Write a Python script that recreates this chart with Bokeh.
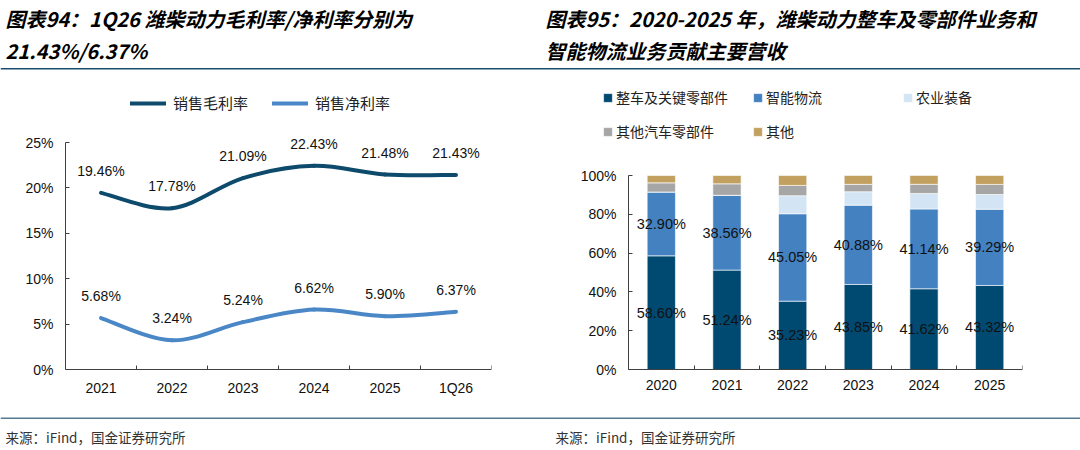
from bokeh.core.properties import value
from bokeh.embed import file_html
from bokeh.layouts import column, row
from bokeh.models import (ColumnDataSource, FixedTicker, Legend, LegendItem,
                          PrintfTickFormatter, Range1d, Span)
from bokeh.plotting import figure
from bokeh.resources import INLINE

# ---- data: left chart (margins, %)
years_left = ["2021", "2022", "2023", "2024", "2025", "1Q26"]
gross_margin = [19.46, 17.78, 21.09, 22.43, 21.48, 21.43]
net_margin = [5.68, 3.24, 5.24, 6.62, 5.90, 6.37]

# ---- data: right chart (revenue mix, %)
years_right = ["2020", "2021", "2022", "2023", "2024", "2025"]
vehicle_parts = [58.60, 51.24, 35.23, 43.85, 41.62, 43.32]
logistics = [32.90, 38.56, 45.05, 40.88, 41.14, 39.29]
agri = [0.0, 0.0, 9.3, 6.9, 8.0, 7.6]
other_auto = [4.7, 5.9, 5.3, 3.8, 4.7, 5.2]
others = [3.8, 4.3, 5.1, 4.6, 4.6, 4.6]
mix_names = ["整车及关键零部件", "智能物流", "农业装备", "其他汽车零部件", "其他"]

titles_left = ["图表94：1Q26 潍柴动力毛利率/净利率分别为", "21.43%/6.37%"]
titles_right = ["图表95：2020-2025 年，潍柴动力整车及零部件业务和", "智能物流业务贡献主要营收"]
source_note = "来源：iFind，国金证券研究所"

CJK = "Noto Sans CJK SC"
NUM = "Liberation Sans"
RULE = "#1b4d6e"


def smooth_segments(xs, ys):
    # bezier pieces through the points (excel style smoothed line)
    px = [xs[0]] + list(xs) + [xs[-1]]
    py = [ys[0]] + list(ys) + [ys[-1]]
    seg = dict(x0=[], y0=[], x1=[], y1=[], cx0=[], cy0=[], cx1=[], cy1=[])
    for i in range(1, len(xs)):
        seg["x0"].append(px[i]); seg["y0"].append(py[i])
        seg["x1"].append(px[i + 1]); seg["y1"].append(py[i + 1])
        seg["cx0"].append(px[i] + (px[i + 1] - px[i - 1]) / 6)
        seg["cy0"].append(py[i] + (py[i + 1] - py[i - 1]) / 6)
        seg["cx1"].append(px[i + 1] - (px[i + 2] - px[i]) / 6)
        seg["cy1"].append(py[i + 1] - (py[i + 2] - py[i]) / 6)
    return seg


def style_axes(p):
    for ax in p.axis:
        ax.axis_line_color = "#404040"
        ax.major_tick_line_color = "#404040"
        ax.minor_tick_line_color = "#404040"
        ax.major_label_text_font = NUM
        ax.major_label_text_font_size = "14px"
        ax.major_label_text_color = "#111111"
    p.yaxis.major_tick_in = 4
    p.yaxis.major_tick_out = 0
    p.yaxis.minor_tick_line_color = None
    p.yaxis.major_label_standoff = 12
    p.yaxis.formatter = PrintfTickFormatter(format="%d%%")
    p.xaxis.major_tick_in = 0
    p.xaxis.major_tick_out = 0
    p.xaxis.minor_tick_in = 4
    p.xaxis.minor_tick_out = 0
    p.xaxis.major_label_standoff = 10
    p.xaxis.fixed_location = 0
    p.grid.visible = False


def strip(h, y0, y1):
    # page strip for titles / source, y runs top-down in page pixels
    s = figure(width=1080, height=h, x_range=Range1d(0, 1080), y_range=Range1d(y1, y0),
               x_axis_type=None, y_axis_type=None, min_border=0, toolbar_location=None,
               output_backend="svg", outline_line_color=None)
    s.grid.visible = False
    return s


# ================= header
head = strip(72, 0, 72)
head_src = ColumnDataSource(dict(x=[5, 5, 545, 545], y=[18, 50, 18, 50],
                                 t=titles_left + titles_right))
head.text(x="x", y="y", text="t", source=head_src, text_font=value(CJK),
          text_font_size="20px", text_font_style="bold italic", text_color="#000000",
          text_baseline="middle")
head.add_layout(Span(location=68.3, dimension="width", line_color=RULE, line_width=1.5))

# ================= left: margins
# both chart frames span the same rows (the row aligns them); x axes sit at y=0
p1 = figure(width=540, height=345, x_range=Range1d(0, 6), y_range=Range1d(-3.6, 31.82),
            min_border_left=65, min_border_right=49, min_border_top=8, min_border_bottom=15,
            toolbar_location=None, output_backend="svg", outline_line_color=None)
style_axes(p1)
centers_l = [i + 0.5 for i in range(len(years_left))]
p1.xaxis.ticker = FixedTicker(ticks=centers_l, minor_ticks=list(range(len(years_left) + 1)))
p1.xaxis.major_label_overrides = {c: y for c, y in zip(centers_l, years_left)}
p1.yaxis.ticker = FixedTicker(ticks=[0, 5, 10, 15, 20, 25])
p1.yaxis.bounds = (0, 25)

bez = dict(x0="x0", y0="y0", x1="x1", y1="y1", cx0="cx0", cy0="cy0", cx1="cx1", cy1="cy1")
r_gross = p1.bezier(source=ColumnDataSource(smooth_segments(centers_l, gross_margin)),
                    line_color="#0d4a6b", line_width=4, line_cap="round", **bez)
r_net = p1.bezier(source=ColumnDataSource(smooth_segments(centers_l, net_margin)),
                  line_color="#4a87c7", line_width=4, line_cap="round", **bez)

for vals in (gross_margin, net_margin):
    src = ColumnDataSource(dict(x=centers_l, y=vals, t=[f"{v:.2f}%" for v in vals]))
    p1.text(x="x", y="y", text="t", source=src, y_offset=-22, text_align="center",
            text_baseline="middle", text_font=value(NUM), text_font_size="14px",
            text_color="#111111")

leg1 = Legend(items=[LegendItem(label="销售毛利率", renderers=[r_gross]),
                     LegendItem(label="销售净利率", renderers=[r_net])],
              orientation="horizontal", location=(65, 289), glyph_width=36, glyph_height=20,
              label_height=20, label_standoff=7, spacing=24, padding=0, margin=0,
              border_line_color=None, background_fill_alpha=0,
              label_text_font=CJK, label_text_font_size="15px", label_text_color="#222222")
p1.add_layout(leg1)

# ================= right: revenue mix
# frame reaches past the axes so the legend and tick labels fit; axes sit at x=0 / y=0
p2 = figure(width=540, height=345, x_range=Range1d(-0.837, 6), y_range=Range1d(-17.01, 148.97),
            min_border_left=33, min_border_right=58, min_border_top=8, min_border_bottom=15,
            toolbar_location=None, output_backend="svg", outline_line_color=None)
style_axes(p2)
centers_r = [i + 0.5 for i in range(len(years_right))]
p2.xaxis.ticker = FixedTicker(ticks=centers_r, minor_ticks=list(range(len(years_right) + 1)))
p2.xaxis.major_label_overrides = {c: y for c, y in zip(centers_r, years_right)}
p2.xaxis.bounds = (0, 6)
p2.yaxis.ticker = FixedTicker(ticks=[0, 20, 40, 60, 80, 100])
p2.yaxis.bounds = (0, 100)
p2.yaxis.fixed_location = 0

keys = ["vp", "lg", "ag", "oa", "ot"]
mix_src = ColumnDataSource(dict(x=centers_r, vp=vehicle_parts, lg=logistics, ag=agri,
                                oa=other_auto, ot=others))
mix_colors = ["#004a72", "#4381c1", "#d3e5f5", "#a6a6a6", "#c2a160"]
bars = p2.vbar_stack(keys, x="x", width=0.43, color=mix_colors, source=mix_src,
                     line_color="white", line_width=0.6)

lab_x, lab_y, lab_t = [], [], []
for i, c in enumerate(centers_r):
    lab_x += [c, c]
    lab_y += [vehicle_parts[i] / 2, vehicle_parts[i] + logistics[i] / 2]
    lab_t += [f"{vehicle_parts[i]:.2f}%", f"{logistics[i]:.2f}%"]
p2.text(x="x", y="y", text="t", source=ColumnDataSource(dict(x=lab_x, y=lab_y, t=lab_t)),
        text_align="center", text_baseline="middle", text_font=value(NUM),
        text_font_size="14.5px", text_color="#111111")

leg2 = Legend(items=[LegendItem(label=n, renderers=[r]) for n, r in zip(mix_names, bars)],
              orientation="horizontal", ncols=3, location=(29, 261), glyph_width=11,
              glyph_height=11, label_width=122, label_standoff=3, spacing=14,
              padding=0, margin=0, border_line_color=None, background_fill_alpha=0,
              label_text_font=CJK, label_text_font_size="14px", label_text_color="#222222")
p2.add_layout(leg2)

# ================= footer
foot = strip(33, 417, 450)
foot.text(x="x", y="y", text="t", source=ColumnDataSource(dict(x=[5, 555], y=[436, 436],
                                                               t=[source_note] * 2)),
          text_font=value(CJK), text_font_size="13.5px", text_color="#333333",
          text_baseline="middle")
foot.add_layout(Span(location=417.6, dimension="width", line_color=RULE, line_width=1.5))

layout = column(head, row(p1, p2), foot)
open("out.html", "w").write(file_html(layout, INLINE))
